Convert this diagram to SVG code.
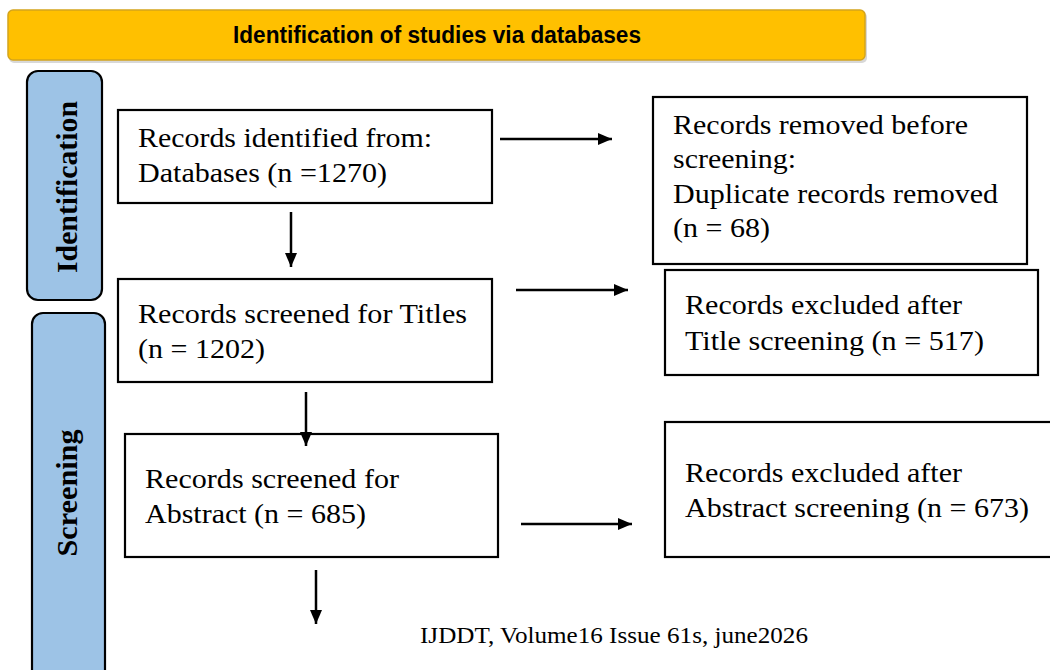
<svg xmlns="http://www.w3.org/2000/svg" width="1050" height="670" viewBox="0 0 1050 670">
  <style>
    .box { fill: #ffffff; stroke: #000000; stroke-width: 2.2; }
    .side { fill: #9DC3E6; stroke: #000000; stroke-width: 2.2; }
    .t { font-family: 'Liberation Serif', 'Times New Roman', Times, serif; font-size: 27px; fill: #000000; }
    .st { font-family: 'Liberation Serif', 'Times New Roman', Times, serif; font-size: 30px; font-weight: bold; fill: #000000; }
    .hd { font-family: 'Liberation Sans Narrow', 'Liberation Sans', Arial, sans-serif; font-size: 23px; font-weight: bold; fill: #000000; }
    .ft { font-family: 'Liberation Serif', 'Times New Roman', Times, serif; font-size: 22.5px; fill: #000000; }
    .conn { stroke: #000000; stroke-width: 2.5; fill: none; marker-end: url(#arrow); }
  </style>
  <defs>
    <marker id="arrow" viewBox="0 0 14 12" refX="14" refY="6" markerWidth="14" markerHeight="12" markerUnits="userSpaceOnUse" orient="auto">
      <path d="M0,0 L14,6 L0,12 Z" fill="#000000"/>
    </marker>
  </defs>
  <rect width="1050" height="670" fill="#ffffff"/>

  <g id="header">
    <rect x="9" y="12" width="858" height="51" rx="5" fill="#d8d8d8"/>
    <rect x="8" y="10" width="857" height="50" rx="5" fill="#FFC000" stroke="#D4A41C" stroke-width="1.5"/>
    <text class="hd" x="437" y="43" text-anchor="middle" textLength="408" lengthAdjust="spacingAndGlyphs">Identification of studies via databases</text>
  </g>

  <g id="phase-identification">
    <rect class="side" x="27" y="71" width="75" height="229" rx="11"/>
    <text class="st" transform="translate(77,187) rotate(-90)" text-anchor="middle" textLength="172" lengthAdjust="spacingAndGlyphs">Identification</text>
  </g>

  <g id="phase-screening">
    <rect class="side" x="32" y="313" width="73" height="380" rx="11"/>
    <text class="st" transform="translate(77,493) rotate(-90)" text-anchor="middle" textLength="127" lengthAdjust="spacingAndGlyphs">Screening</text>
  </g>

  <g id="records-identified">
    <rect class="box" x="118" y="110" width="374" height="93"/>
    <text class="t" x="138" y="147" textLength="294" lengthAdjust="spacingAndGlyphs">Records identified from:</text>
    <text class="t" x="138" y="182" textLength="249" lengthAdjust="spacingAndGlyphs">Databases (n =1270)</text>
  </g>

  <g id="records-removed">
    <rect class="box" x="653" y="97" width="374" height="167"/>
    <text class="t" x="673" y="134" textLength="295" lengthAdjust="spacingAndGlyphs">Records removed before</text>
    <text class="t" x="673" y="168" textLength="123" lengthAdjust="spacingAndGlyphs">screening:</text>
    <text class="t" x="673" y="203" textLength="325" lengthAdjust="spacingAndGlyphs">Duplicate records removed</text>
    <text class="t" x="673" y="237" textLength="97" lengthAdjust="spacingAndGlyphs">(n = 68)</text>
  </g>

  <g id="screened-titles">
    <rect class="box" x="118" y="279" width="374" height="103"/>
    <text class="t" x="138" y="323" textLength="329" lengthAdjust="spacingAndGlyphs">Records screened for Titles</text>
    <text class="t" x="138" y="358" textLength="127" lengthAdjust="spacingAndGlyphs">(n = 1202)</text>
  </g>

  <g id="excluded-title">
    <rect class="box" x="665" y="270" width="373" height="105"/>
    <text class="t" x="685" y="314" textLength="277" lengthAdjust="spacingAndGlyphs">Records excluded after</text>
    <text class="t" x="685" y="350" textLength="299" lengthAdjust="spacingAndGlyphs">Title screening (n = 517)</text>
  </g>

  <g id="screened-abstract">
    <rect class="box" x="125" y="434" width="373" height="123"/>
    <text class="t" x="145" y="488" textLength="254" lengthAdjust="spacingAndGlyphs">Records screened for</text>
    <text class="t" x="145" y="523" textLength="221" lengthAdjust="spacingAndGlyphs">Abstract (n = 685)</text>
  </g>

  <g id="excluded-abstract">
    <rect class="box" x="665" y="422" width="400" height="135"/>
    <text class="t" x="685" y="482" textLength="277" lengthAdjust="spacingAndGlyphs">Records excluded after</text>
    <text class="t" x="685" y="517" textLength="344" lengthAdjust="spacingAndGlyphs">Abstract screening (n = 673)</text>
  </g>

  <g id="connectors">
    <line class="conn" x1="500" y1="139" x2="612" y2="139"/>
    <line class="conn" x1="291" y1="212" x2="291" y2="267"/>
    <line class="conn" x1="516" y1="290" x2="628" y2="290"/>
    <line class="conn" x1="306" y1="392" x2="306" y2="446"/>
    <line class="conn" x1="521" y1="524" x2="632" y2="524"/>
    <line class="conn" x1="316" y1="570" x2="316" y2="624"/>
  </g>

  <g id="footer">
    <text class="ft" x="420" y="643" textLength="388" lengthAdjust="spacingAndGlyphs">IJDDT, Volume16 Issue 61s, june2026</text>
  </g>
</svg>
